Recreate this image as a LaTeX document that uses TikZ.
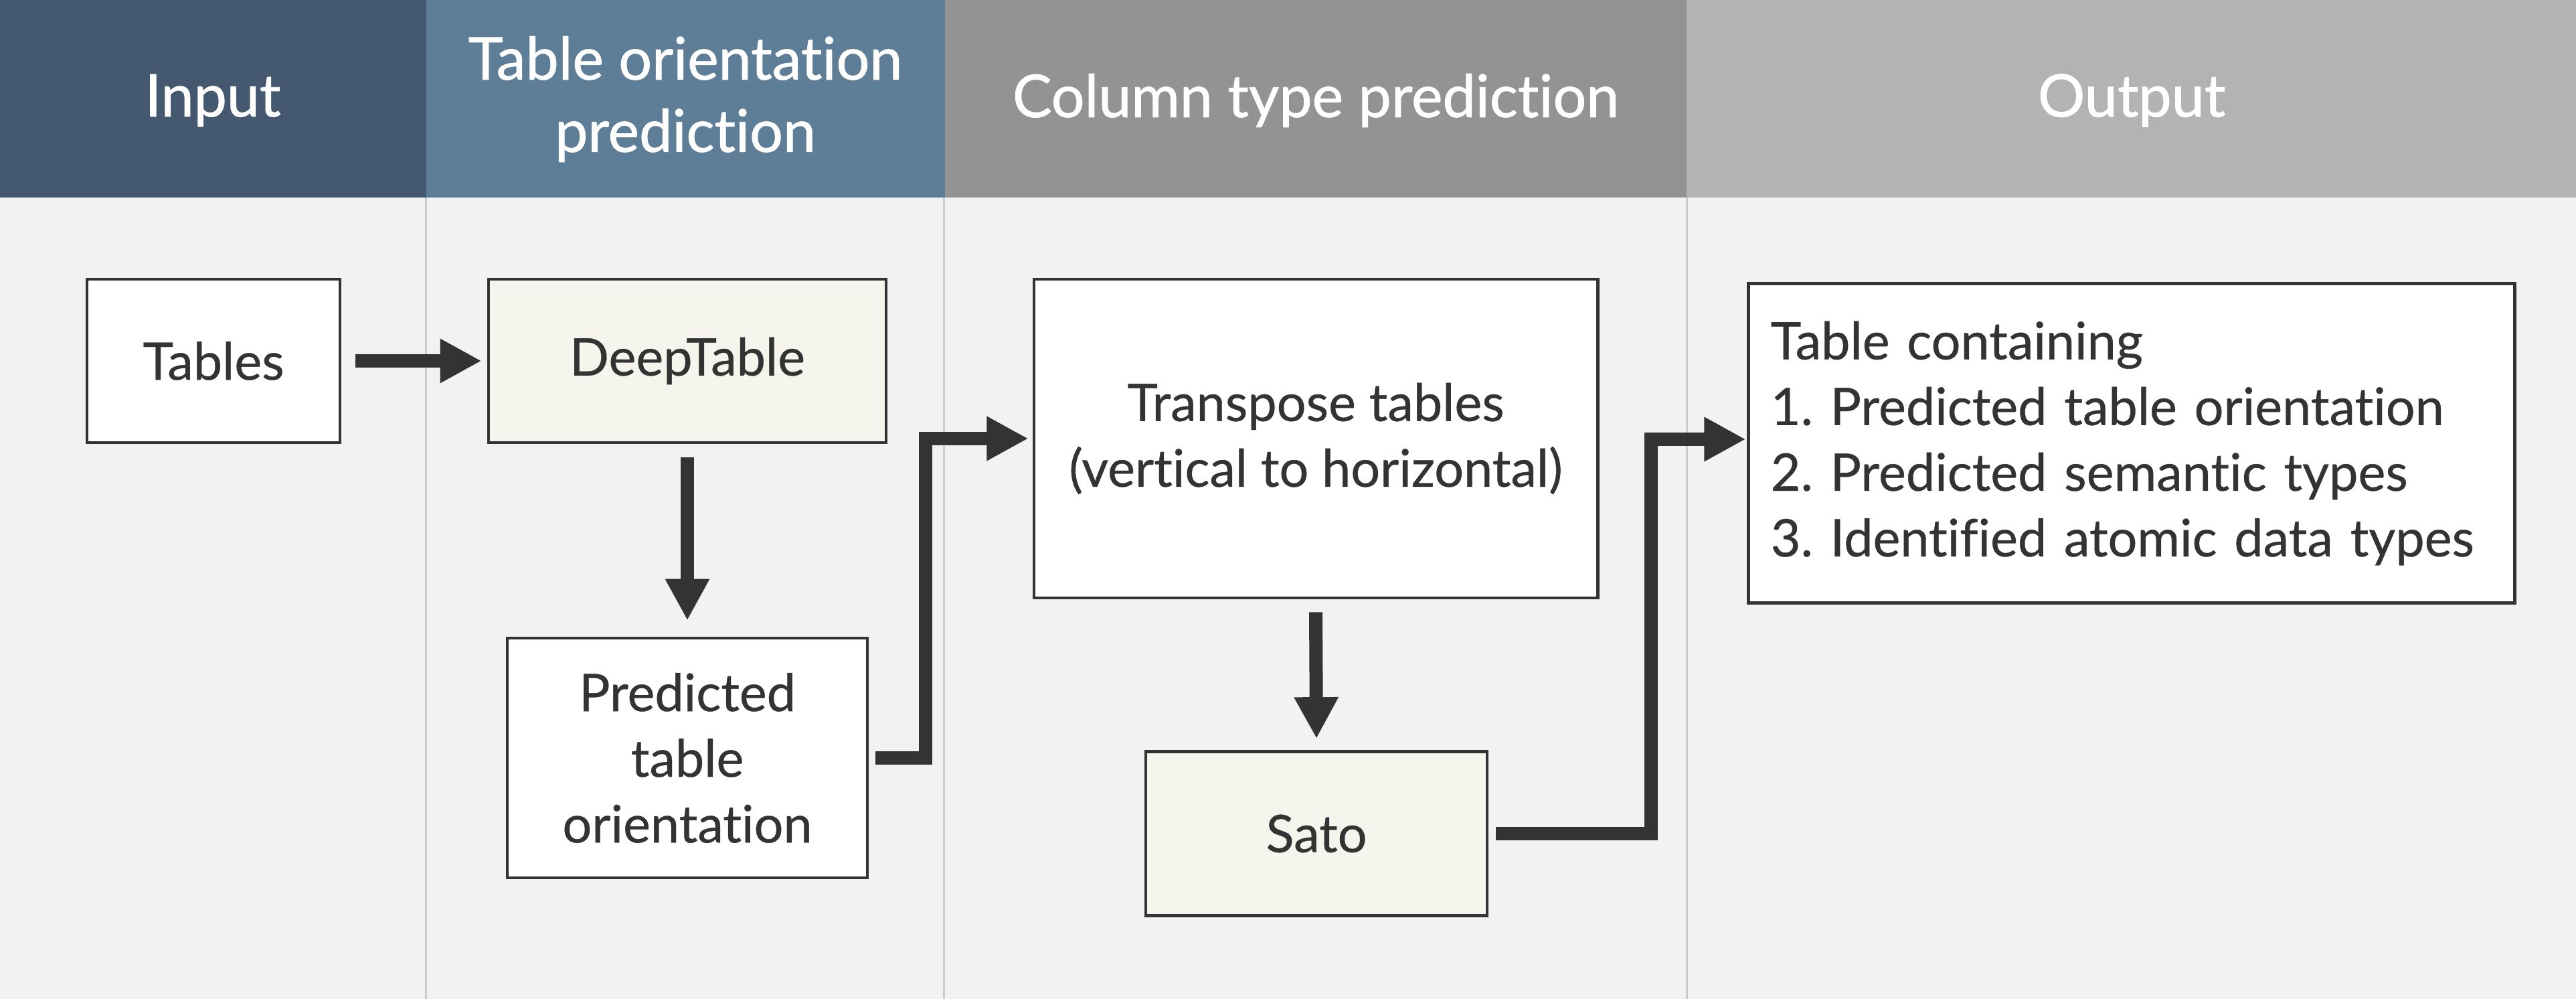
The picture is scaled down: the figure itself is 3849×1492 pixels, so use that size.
\documentclass[tikz,border=0pt]{standalone}
\usepackage{fontspec}
\setmainfont{Lato}[Ligatures=NoCommon]
\newfontfamily\bodyfont{Lato}[Ligatures=NoCommon,FakeBold=0.5]
\newfontfamily\hdrfont{Lato}[Ligatures=NoCommon,FakeBold=1.0]
\usetikzlibrary{arrows.meta}
\definecolor{hA}{RGB}{68,89,111}
\definecolor{hB}{RGB}{94,125,151}
\definecolor{hC}{RGB}{147,147,147}
\definecolor{hD}{RGB}{179,179,179}
\definecolor{bg}{RGB}{242,242,242}
\definecolor{divc}{RGB}{205,205,205}
\definecolor{dk}{RGB}{51,51,51}
\definecolor{ivory}{RGB}{245,245,238}
\frenchspacing
\begin{document}
\begin{tikzpicture}[x=0.01cm,y=-0.01cm,
  box/.style={draw=dk, line width=0.045cm, fill=white, inner sep=0pt, align=center,
    text=dk, font=\bodyfont\fontsize{22}{27.9}\selectfont},
  ivorybox/.style={box, fill=ivory},
  hdr/.style={text=white, align=center, inner sep=0pt, font=\hdrfont\fontsize{25}{30.7}\selectfont},
  flow/.style={draw=dk, line width=0.2cm, line join=miter,
    -{Triangle[length=0.62cm,width=0.62cm]}},
  divider/.style={draw=divc, line width=0.03cm}
]
\useasboundingbox (0,0) rectangle (3849,1492);
\fill[bg] (0,0) rectangle (3849,1492);
% headers
\fill[hA] (0,0) rectangle (637,295);
\fill[hB] (637,0) rectangle (1412,295);
\fill[hC] (1412,0) rectangle (2520,295);
\fill[hD] (2520,0) rectangle (3849,295);
\node[hdr] (h1) at (318,150) {Input};
\node[hdr] (h2) at (1024,148) {Table orientation\\prediction};
\node[hdr] (h3) at (1966,150) {Column type prediction};
\node[hdr] (h4) at (3185,150) {Output};
% dividers
\draw[divider] (636,295) -- (636,1492);
\draw[divider] (1410,295) -- (1410,1492);
\draw[divider] (2520,295) -- (2520,1492);
% boxes
\node[box, minimum width=3.78cm, minimum height=2.44cm] (tables) at (319,539) {Tables};
\node[ivorybox, minimum width=5.94cm, minimum height=2.44cm] (deep) at (1027,539) {DeepTable};
\node[box, minimum width=5.38cm, minimum height=3.58cm] (pred) at (1027,1132) {Predicted\\table\\orientation};
\node[box, minimum width=8.42cm, minimum height=4.76cm] (trans) at (1966,655) {Transpose tables\\(vertical to horizontal)};
\node[ivorybox, minimum width=5.10cm, minimum height=2.45cm] (sato) at (1967,1245) {Sato};
\node[box, minimum width=11.44cm, minimum height=4.77cm, text width=10.78cm, align=left] (out) at (3185,662)
  {Table containing\\1. Predicted table orientation\\2. Predicted semantic types\\3. Identified atomic data types};
% connectors
\coordinate (m1) at (1383,655);
\coordinate (m2) at (2467,656);
\draw[flow] ([xshift=0.21cm]tables.east) -- ([xshift=-0.08cm]deep.west);
\draw[flow] ([yshift=-0.2cm]deep.south) -- ([yshift=0.24cm]pred.north);
\draw[flow] ([xshift=0.1cm]pred.east) -| (m1) -- ([xshift=-0.06cm]trans.west);
\draw[flow] ([yshift=-0.19cm]trans.south) -- ([yshift=0.17cm]sato.north);
\draw[flow] ([xshift=0.11cm]sato.east) -| (m2) -- ([xshift=-0.02cm]out.west |- m2);
\end{tikzpicture}
\end{document}
